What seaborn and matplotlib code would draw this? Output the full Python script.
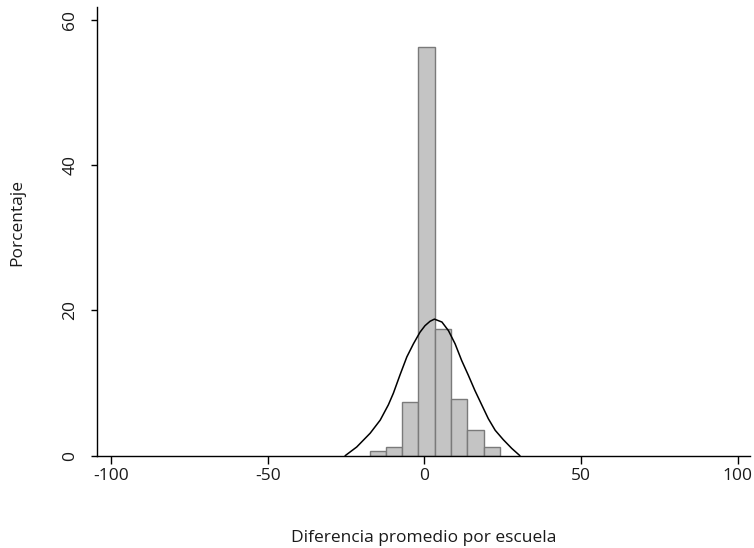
import matplotlib
matplotlib.use("Agg")
import matplotlib.pyplot as plt
import seaborn as sns
import pandas as pd

# Histograma: bordes de clase y porcentaje por clase
bin_edges = [-17.5, -12.3, -7.1, -1.9, 3.3, 8.5, 13.7, 18.9, 24.1]
bin_pct = [0.6, 1.2, 7.4, 56.3, 17.5, 7.8, 3.5, 1.2]

# Curva de densidad superpuesta
curve_x = [-25.3, -21.6, -17.3, -14.1, -11.5, -9.9, -7.8, -5.6, -3.5, -1.4,
           0.2, 1.8, 3.2, 5.6, 7.7, 9.8, 11.9, 14.0, 16.1, 18.3, 20.4,
           22.6, 25.2, 27.9, 30.5]
curve_y = [0.0, 1.2, 3.1, 4.9, 7.0, 8.6, 11.1, 13.6, 15.4, 17.0,
           17.9, 18.5, 18.8, 18.4, 17.2, 15.4, 13.1, 11.1, 9.0, 7.0, 5.1,
           3.5, 2.2, 1.0, 0.0]

x_ticks = [-100, -50, 0, 50, 100]
y_ticks = [0, 20, 40, 60]

sns.set_style("white")
plt.rcParams['font.family'] = ['Open Sans', 'DejaVu Sans']

centers = [(a + b) / 2 for a, b in zip(bin_edges[:-1], bin_edges[1:])]
df_hist = pd.DataFrame({'x': centers, 'pct': bin_pct})
df_curve = pd.DataFrame({'x': curve_x, 'y': curve_y})

fig = plt.figure(figsize=(7.54, 5.48), dpi=100)
ax = fig.add_axes([0.1286, 0.1684, 0.866, 0.8194])

sns.histplot(data=df_hist, x='x', weights='pct', bins=bin_edges, ax=ax,
             color='#c4c4c4', edgecolor='#7a7a7a', linewidth=1.0, alpha=1)
sns.lineplot(data=df_curve, x='x', y='y', sort=False, ax=ax,
             color='black', linewidth=1.1)

ax.set_xlim(-104.5, 103.9)
ax.set_ylim(0, 61.8)
ax.set_xticks(x_ticks)
ax.set_xticklabels([str(t) for t in x_ticks], fontsize=12.5)
ax.set_yticks(y_ticks)
ax.set_yticklabels([str(t) for t in y_ticks], fontsize=12.5, rotation=90, va='center')

ax.spines['top'].set_visible(False)
ax.spines['right'].set_visible(False)
for s in ['left', 'bottom']:
    ax.spines[s].set_color('black')
    ax.spines[s].set_linewidth(1.0)
ax.tick_params(axis='x', direction='out', length=5.5, width=1.0, pad=3,
               color='black', labelcolor='#1a1a1a', bottom=True)
ax.tick_params(axis='y', direction='out', length=4.5, width=1.0, pad=9,
               color='black', labelcolor='#1a1a1a', left=True)

ax.set_xlabel('Diferencia promedio por escuela', fontsize=12.5, color='#1a1a1a', va='center')
ax.set_ylabel('Porcentaje', fontsize=12.5, color='#1a1a1a', va='center')
ax.xaxis.set_label_coords(0.5, -0.183)
ax.yaxis.set_label_coords(-0.122, 0.52)

fig.savefig('out.png', dpi=100)
